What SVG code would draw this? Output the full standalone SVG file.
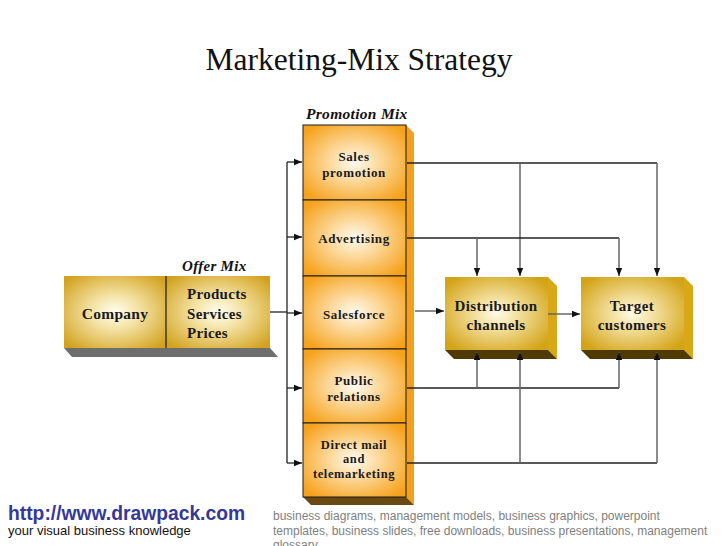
<svg xmlns="http://www.w3.org/2000/svg" width="728" height="546" viewBox="0 0 728 546">
<style>
.t{font-family:"Liberation Serif","Times New Roman",serif;font-weight:bold;fill:#1a1a1a}
.ce{text-anchor:middle}
.p{font-size:13px;letter-spacing:0.6px}
.q{font-size:12.5px;letter-spacing:0.6px}
.lbl{font-family:"Liberation Serif","Times New Roman",serif;font-weight:bold;font-style:italic;font-size:15px;letter-spacing:0.3px;fill:#111}
.ln{fill:none;stroke:#222;stroke-width:1.3}
.lg{fill:none;stroke:#666;stroke-width:1.5}
.edge{stroke:#1a1a1a;stroke-width:1}
.ft{font-family:"Liberation Sans",Arial,sans-serif;font-size:12px;fill:#808080}
</style>
<defs>
<radialGradient id="gold" cx="50%" cy="50%" r="65%">
<stop offset="0" stop-color="#fffdf0"/>
<stop offset="0.35" stop-color="#f5e4a8"/>
<stop offset="1" stop-color="#d2a21e"/>
</radialGradient>
<radialGradient id="gold2" cx="50%" cy="50%" r="62%">
<stop offset="0" stop-color="#fffbe8"/>
<stop offset="0.35" stop-color="#f3df9c"/>
<stop offset="1" stop-color="#d4a418"/>
</radialGradient>
<radialGradient id="orange" cx="50%" cy="50%" r="62%">
<stop offset="0" stop-color="#fffaf0"/>
<stop offset="0.4" stop-color="#fcd89a"/>
<stop offset="1" stop-color="#f6a21c"/>
</radialGradient>
<marker id="ah" viewBox="0 0 8 8" refX="8" refY="4" markerWidth="8" markerHeight="8" markerUnits="userSpaceOnUse" orient="auto">
<path d="M0,0.8 L8,4 L0,7.2 z" fill="#111"/>
</marker>
</defs>
<rect width="728" height="546" fill="#fff"/>
<text x="359" y="70" text-anchor="middle" style="font-family:'Liberation Serif','Times New Roman',serif;font-size:31.5px;fill:#111">Marketing-Mix Strategy</text>

<g id="company">
<polygon points="64,348 270,348 278,357 72,357" fill="#6e6e6e"/>
<rect x="64" y="276" width="102" height="72" fill="url(#gold)"/>
<text class="t ce" x="115" y="319" style="font-size:15.5px;letter-spacing:0.3px">Company</text>
</g>
<g id="offer-mix">
<rect x="166" y="276" width="104" height="72" fill="url(#gold)"/>
<line x1="166" y1="276" x2="166" y2="348" stroke="#1a1a1a" stroke-width="1.2"/>
<text class="lbl" x="182" y="271">Offer Mix</text>
<text class="t" x="187" y="299" style="font-size:15px;letter-spacing:0.3px">Products</text>
<text class="t" x="187" y="319" style="font-size:15px;letter-spacing:0.3px">Services</text>
<text class="t" x="187" y="338" style="font-size:15px;letter-spacing:0.3px">Prices</text>
</g>

<g id="promotion-mix">
<polygon points="406,125 414,133 414,505 406,497" fill="#f2a01e"/>
<polygon points="303,497 406,497 414,505 311,505" fill="#6a4a12"/>
<text class="lbl" x="306" y="119" style="font-size:15.5px">Promotion Mix</text>
</g>
<g id="sales-promotion">
<rect class="edge" x="303" y="125" width="103" height="75" fill="url(#orange)"/>
<text class="t ce p" x="354" y="161">Sales</text>
<text class="t ce p" x="354" y="177">promotion</text>
</g>
<g id="advertising">
<rect class="edge" x="303" y="200" width="103" height="76" fill="url(#orange)"/>
<text class="t ce p" x="354" y="243">Advertising</text>
</g>
<g id="salesforce">
<rect class="edge" x="303" y="276" width="103" height="73" fill="url(#orange)"/>
<text class="t ce p" x="354" y="319">Salesforce</text>
</g>
<g id="public-relations">
<rect class="edge" x="303" y="349" width="103" height="74" fill="url(#orange)"/>
<text class="t ce p" x="354" y="385">Public</text>
<text class="t ce p" x="354" y="401">relations</text>
</g>
<g id="direct-mail">
<rect class="edge" x="303" y="423" width="103" height="74" fill="url(#orange)"/>
<text class="t ce q" x="354" y="449">Direct mail</text>
<text class="t ce q" x="354" y="463">and</text>
<text class="t ce q" x="354" y="477.5">telemarketing</text>
</g>

<g id="distribution">
<polygon points="548,277 557,286 557,359 548,350" fill="#d8a818"/>
<polygon points="445,350 548,350 557,359 454,359" fill="#4e3a02"/>
<rect x="445" y="277" width="103" height="73" fill="url(#gold2)"/>
<text class="t ce" x="496" y="311" style="font-size:15px;letter-spacing:0.4px">Distribution</text>
<text class="t ce" x="496" y="330" style="font-size:15px;letter-spacing:0.4px">channels</text>
</g>
<g id="target">
<polygon points="684,277 693,286 693,359 684,350" fill="#d8a818"/>
<polygon points="581,350 684,350 693,359 590,359" fill="#4e3a02"/>
<rect x="581" y="277" width="103" height="73" fill="url(#gold2)"/>
<text class="t ce" x="632" y="311" style="font-size:15px;letter-spacing:0.4px">Target</text>
<text class="t ce" x="632" y="330" style="font-size:15px;letter-spacing:0.4px">customers</text>
</g>

<g id="connectors">
<line class="ln" x1="270" y1="312" x2="287" y2="312"/>
<line class="ln" x1="287" y1="162" x2="287" y2="463"/>
<line class="ln" x1="287" y1="162" x2="302" y2="162" marker-end="url(#ah)"/>
<line class="ln" x1="287" y1="237" x2="302" y2="237" marker-end="url(#ah)"/>
<line class="ln" x1="287" y1="313" x2="302" y2="313" marker-end="url(#ah)"/>
<line class="ln" x1="287" y1="388" x2="302" y2="388" marker-end="url(#ah)"/>
<line class="ln" x1="287" y1="463" x2="302" y2="463" marker-end="url(#ah)"/>

<line class="ln" x1="407" y1="163" x2="657" y2="163"/>
<line class="lg" x1="520" y1="163" x2="520" y2="276" marker-end="url(#ah)"/>
<line class="lg" x1="657" y1="163" x2="657" y2="276" marker-end="url(#ah)"/>
<line class="ln" x1="407" y1="238" x2="619" y2="238"/>
<line class="lg" x1="477" y1="238" x2="477" y2="276" marker-end="url(#ah)"/>
<line class="lg" x1="619" y1="238" x2="619" y2="276" marker-end="url(#ah)"/>

<line class="lg" x1="415" y1="311" x2="444" y2="311" marker-end="url(#ah)"/>
<line class="lg" x1="548" y1="314" x2="580" y2="314" marker-end="url(#ah)"/>

<line class="ln" x1="407" y1="388" x2="619" y2="388"/>
<line class="lg" x1="477" y1="388" x2="477" y2="352" marker-end="url(#ah)"/>
<line class="lg" x1="619" y1="388" x2="619" y2="352" marker-end="url(#ah)"/>
<line class="ln" x1="407" y1="463" x2="657" y2="463"/>
<line class="lg" x1="520" y1="463" x2="520" y2="352" marker-end="url(#ah)"/>
<line class="lg" x1="657" y1="463" x2="657" y2="352" marker-end="url(#ah)"/>
</g>

<g id="footer">
<text x="8" y="520" style="font-family:'Liberation Sans',Arial,sans-serif;font-weight:bold;font-size:19.3px;fill:#35389a">http://www.drawpack.com</text>
<text x="8" y="535" style="font-family:'Liberation Sans',Arial,sans-serif;font-size:13px;fill:#111">your visual business knowledge</text>
<text class="ft" x="273" y="520">business diagrams, management models, business graphics, powerpoint</text>
<text class="ft" x="273" y="535">templates, business slides, free downloads, business presentations, management</text>
<text class="ft" x="273" y="549">glossary</text>
</g>
</svg>
